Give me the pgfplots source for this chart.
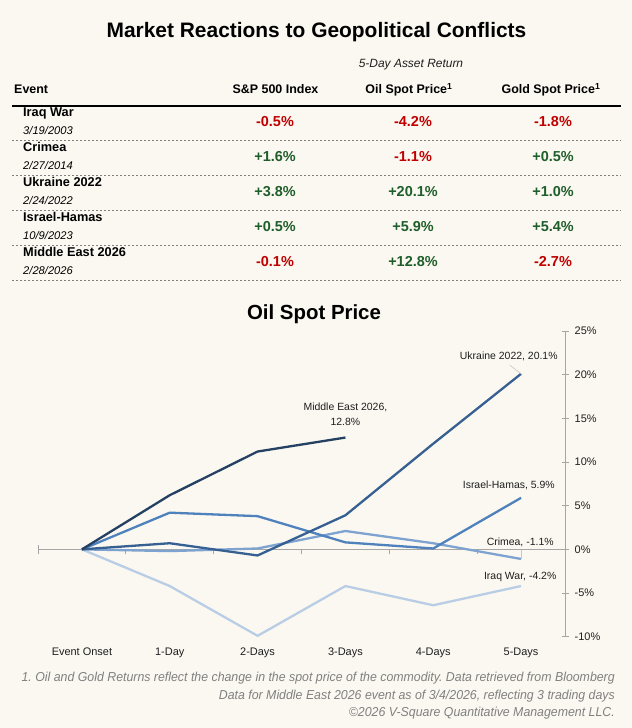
\documentclass[border=0pt]{standalone}
\usepackage{pgfplots}
\pgfplotsset{compat=1.18}
\usepackage{fontspec}
\setmainfont{Liberation Sans}
\newfontfamily\notefont{Liberation Sans}[FakeStretch=0.953]
\frenchspacing

\definecolor{paper}{HTML}{FBF8F1}
\definecolor{negred}{HTML}{C00000}
\definecolor{posgreen}{HTML}{1E5E2A}
\definecolor{meblue}{HTML}{244062}
\definecolor{uablue}{HTML}{376092}
\definecolor{ilblue}{HTML}{4F81BD}
\definecolor{crblue}{HTML}{7EA3D0}
\definecolor{iqblue}{HTML}{B9CDE5}
\definecolor{axisgray}{HTML}{A6A6A6}
\definecolor{notegray}{HTML}{808080}
\definecolor{labeldark}{HTML}{1E1E1E}

\begin{document}
\begin{tikzpicture}
\fill[paper] (0,0) rectangle (632bp,728bp);

% ---------- summary table (coordinates measured from the top-left corner)
\begin{scope}[shift={(0bp,728bp)}, x=1bp, y=-1bp]
  \node[anchor=base, inner sep=0] at (316.5,37.5)
    {\fontsize{21}{24}\selectfont\bfseries Market Reactions to Geopolitical Conflicts};
  \node[anchor=base, inner sep=0, text=labeldark] at (411,67.5)
    {\fontsize{12}{14}\selectfont\itshape 5-Day Asset Return};

  \begin{scope}[every node/.style={inner sep=0}]
    \node[anchor=base west] at (14,94) {\fontsize{12.5}{14}\selectfont\bfseries Event};
    \node[anchor=base] at (275.5,94) {\fontsize{12.5}{14}\selectfont\bfseries S\&P 500 Index};
    \node[anchor=base] at (409,94) {\fontsize{12.5}{14}\selectfont\bfseries Oil Spot Price\textsuperscript{1}};
    \node[anchor=base] at (551,94) {\fontsize{12.5}{14}\selectfont\bfseries Gold Spot Price\textsuperscript{1}};
  \end{scope}
  \draw[line width=1.2bp] (12,106) -- (621,106);

  \foreach \k/\name/\date/\sp/\spc/\oil/\oilc/\gold/\goldc in {
      0/Iraq War/3\slash 19\slash 2003/-0.5/negred/-4.2/negred/-1.8/negred,
      1/Crimea/2\slash 27\slash 2014/+1.6/posgreen/-1.1/negred/+0.5/posgreen,
      2/Ukraine 2022/2\slash 24\slash 2022/+3.8/posgreen/+20.1/posgreen/+1.0/posgreen,
      3/Israel-Hamas/10\slash 9\slash 2023/+0.5/posgreen/+5.9/posgreen/+5.4/posgreen,
      4/Middle East 2026/2\slash 28\slash 2026/-0.1/negred/+12.8/posgreen/-2.7/negred}{
    \pgfmathsetmacro{\T}{105.5+34.9*\k}
    \node[anchor=base west, inner sep=0] at (23,\T+11.5) {\fontsize{12.8}{14}\selectfont\bfseries \name};
    \node[anchor=base west, inner sep=0] at (23,\T+29.5) {\fontsize{11.2}{13}\selectfont\itshape \date};
    \node[anchor=base, inner sep=0, text=\spc] at (275,\T+21.5) {\fontsize{14.5}{16}\selectfont\bfseries \sp\%};
    \node[anchor=base, inner sep=0, text=\oilc] at (413,\T+21.5) {\fontsize{14.5}{16}\selectfont\bfseries \oil\%};
    \node[anchor=base, inner sep=0, text=\goldc] at (553,\T+21.5) {\fontsize{14.5}{16}\selectfont\bfseries \gold\%};
    \draw[gray, line width=0.8bp, dash pattern=on 2bp off 2bp] (12,\T+34.9) -- (621,\T+34.9);
  }

  % chart heading
  \node[anchor=base, inner sep=0] at (314,320)
    {\fontsize{20.5}{24}\selectfont\bfseries Oil Spot Price};

  % notes
  \begin{scope}[every node/.style={anchor=base east, inner sep=0, text=notegray,
      font=\notefont\itshape\fontsize{13}{15}\selectfont}]
    \node at (615,682) {1. Oil and Gold Returns reflect the change in the spot price of the commodity. Data retrieved from Bloomberg};
    \node at (615,699.5) {Data for Middle East 2026 event as of 3/4/2026, reflecting 3 trading days};
    \node at (615,716.5) {©2026 V-Square Quantitative Management LLC.};
  \end{scope}
\end{scope}

% ---------- oil spot price paths, five trading days after each event
\begin{axis}[
  at={(38bp,91.3bp)}, anchor=south west,
  scale only axis, width=527bp, height=305.7bp,
  xmin=-0.5, xmax=5.5, ymin=-10, ymax=25,
  axis y line*=right, axis x line*=bottom,
  x axis line style={draw=none},
  y axis line style={axisgray, line width=0.9bp},
  xtick={0,...,5},
  xticklabels={Event Onset,1-Day,2-Days,3-Days,4-Days,5-Days},
  xtick style={draw=none},
  ytick={-10,-5,...,25},
  yticklabels={-10\%,-5\%,0\%,5\%,10\%,15\%,20\%,25\%},
  ytick style={axisgray, line width=0.9bp},
  ytick align=center, major tick length=7bp,
  ticklabel style={font=\fontsize{11}{13}\selectfont, text=labeldark},
  yticklabel style={anchor=west, inner sep=0pt, xshift=6bp},
  xticklabel style={anchor=base, inner sep=0pt, yshift=-19.3bp},
  clip=false, no markers,
  every axis plot/.append style={line width=2.3bp, line join=round},
]
  % zero line with category separators
  \draw[axisgray, line width=0.9bp] (axis cs:-0.5,0) -- (axis cs:5.5,0);
  \draw[axisgray, line width=0.9bp] ([yshift=4bp]axis cs:-0.5,0) -- ([yshift=-4.5bp]axis cs:-0.5,0);
  \pgfplotsinvokeforeach{0.5,1.5,2.5,3.5,4.5}{
    \draw[axisgray, line width=0.9bp] (axis cs:#1,0) -- ([yshift=-4.5bp]axis cs:#1,0);
  }

  % Iraq War (2003)
  \addplot[iqblue] coordinates {(0,0) (1,-4.2) (2,-9.9) (3,-4.2) (4,-6.4) (5,-4.2)};
  % Crimea (2014)
  \addplot[crblue] coordinates {(0,0) (1,-0.2) (2,0.1) (3,2.1) (4,0.7) (5,-1.1)};
  % Israel-Hamas (2023)
  \addplot[ilblue] coordinates {(0,0) (1,4.2) (2,3.8) (3,0.8) (4,0.1) (5,5.9)};
  % Ukraine (2022)
  \addplot[uablue] coordinates {(0,0) (1,0.7) (2,-0.7) (3,3.9) (4,12.1) (5,20.1)};
  % Middle East (2026), three trading days so far
  \addplot[meblue] coordinates {(0,0) (1,6.2) (2,11.2) (3,12.8)};

  % end-point labels
  \begin{scope}[every node/.style={anchor=base, inner sep=0, text=labeldark,
      font=\fontsize{10.5}{12}\selectfont}]
    \node at (axis cs:3,15.95) {Middle East 2026,};
    \node at (axis cs:3,14.2) {12.8\%};
    \node at (axis cs:4.86,21.7) {Ukraine 2022, 20.1\%};
    \node at (axis cs:4.86,7.0) {Israel-Hamas, 5.9\%};
    \node at (axis cs:4.99,0.43) {Crimea, -1.1\%};
    \node at (axis cs:4.99,-3.4) {Iraq War, -4.2\%};
  \end{scope}
  \draw[gray!45, line width=0.6bp] (axis cs:4.87,21.1) -- (axis cs:5,20.1);
  \draw[gray!45, line width=0.6bp] (axis cs:5,-0.1) -- (axis cs:5,-1.1);
\end{axis}

\pgfresetboundingbox
\useasboundingbox (0,0) rectangle (632bp,728bp);
\end{tikzpicture}
\end{document}
